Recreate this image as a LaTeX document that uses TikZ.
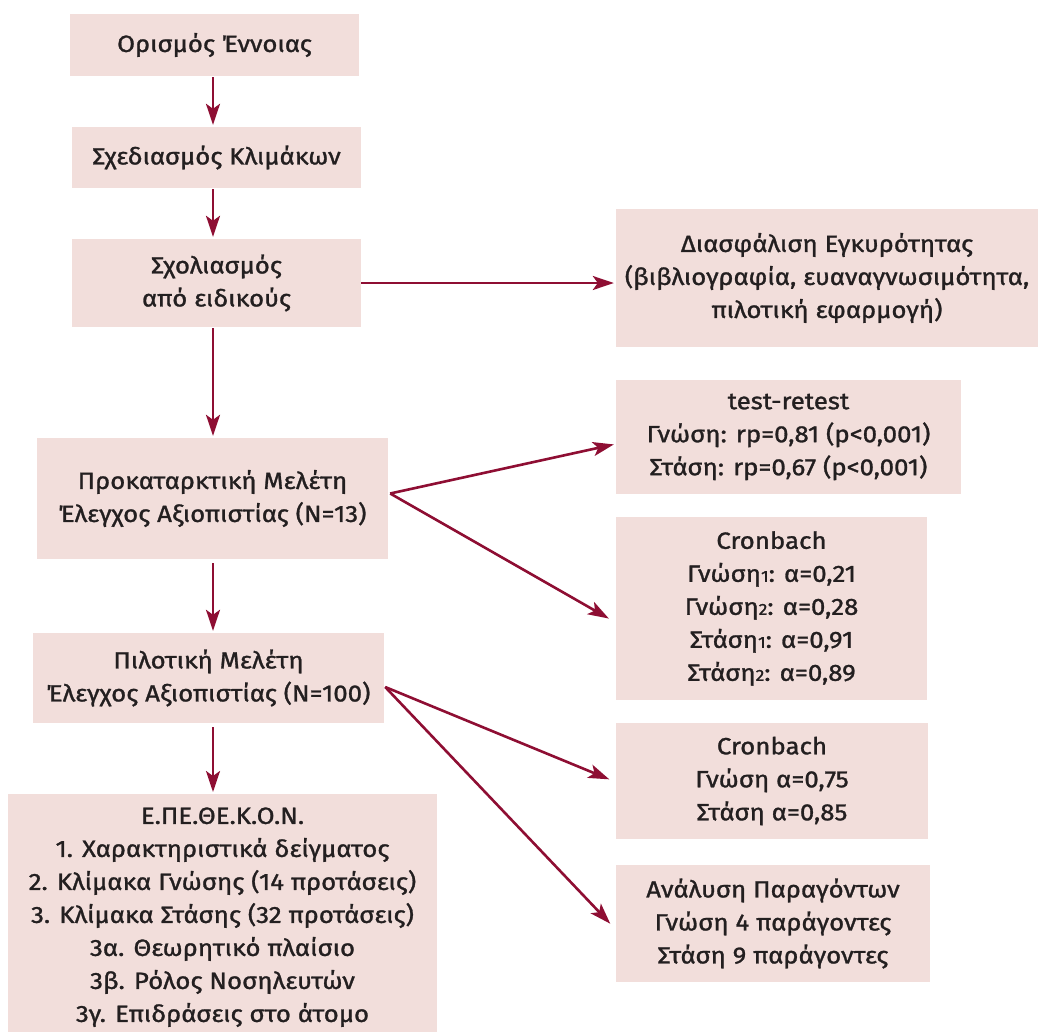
\documentclass[tikz,border=0pt]{standalone}
\usepackage{fontspec}
\setmainfont{Fira Sans}[FakeStretch=1.1, FakeBold=1.2]
\usepackage{tikz}
\usetikzlibrary{arrows.meta, positioning}

\definecolor{boxfill}{HTML}{F2DEDB}
\definecolor{arrowred}{HTML}{8E0E33}
\definecolor{ink}{HTML}{231F20}

\newcommand{\sub}[1]{{\fontsize{16}{16}\selectfont #1}}

\tikzset{
  stage/.style={fill=boxfill, text=ink, align=center, inner sep=0pt,
    font=\fontsize{23.5}{33}\selectfont},
  link/.style={draw=arrowred, line width=2.6pt,
    -{Stealth[length=21pt, width=14pt, inset=5pt]}, shorten >=2pt}
}

\begin{document}
\begin{tikzpicture}[x=1pt, y=-1pt]
  \useasboundingbox (0,0) rectangle (1038,1031);

  % left column
  \node[stage, minimum width=289, minimum height=62] (def) at (214.5,45) {Ορισμός Έννοιας};
  \node[stage, minimum width=289, minimum height=61] (design) at (216.5,157.5) {Σχεδιασμός Κλιμάκων};
  \node[stage, minimum width=289, minimum height=88] (review) at (216.5,283) {Σχολιασμός\\από ειδικούς};
  \node[stage, minimum width=351, minimum height=121] (prelim) at (212.5,498.5)
    {Προκαταρκτική Μελέτη\\Έλεγχος Αξιοπιστίας (N=13)};
  \node[stage, minimum width=351, minimum height=90] (pilot) at (208.5,678)
    {Πιλοτική Μελέτη\\Έλεγχος Αξιοπιστίας (N=100)};
  \node[stage, anchor=north, minimum width=429, minimum height=246] (final) at (222.5,794)
    {Ε.ΠΕ.ΘΕ.Κ.Ο.Ν.\\1. Χαρακτηριστικά δείγματος\\2. Κλίμακα Γνώσης (14 προτάσεις)\\
     3. Κλίμακα Στάσης (32 προτάσεις)\\3α. Θεωρητικό πλαίσιο\\3β. Ρόλος Νοσηλευτών\\
     3γ. Επιδράσεις στο άτομο};

  % right column
  \node[stage, minimum width=422, minimum height=138] (valid) at (827,278)
    {Διασφάλιση Εγκυρότητας\\(βιβλιογραφία, ευαναγνωσιμότητα,\\πιλοτική εφαρμογή)};
  \node[stage, minimum width=345, minimum height=114] (retest) at (788.5,437)
    {test-retest\\Γνώση: rp=0,81 (p<0,001)\\Στάση: rp=0,67 (p<0,001)};
  \node[stage, minimum width=311, minimum height=183] (alpha1) at (771.5,608.5)
    {Cronbach\\Γνώση\sub{1}: α=0,21\\Γνώση\sub{2}: α=0,28\\Στάση\sub{1}: α=0,91\\Στάση\sub{2}: α=0,89};
  \node[stage, minimum width=312, minimum height=116] (alpha2) at (772,781)
    {Cronbach\\Γνώση α=0,75\\Στάση α=0,85};
  \node[stage, minimum width=314, minimum height=117] (factors) at (773,923.5)
    {Ανάλυση Παραγόντων\\Γνώση 4 παράγοντες\\Στάση 9 παράγοντες};

  % arrows down
  \coordinate (spine) at (213,0);
  \draw[link, shorten <=1pt] (def.south -| spine) -- (design.north -| spine);
  \draw[link, shorten <=1pt] (design.south -| spine) -- (review.north -| spine);
  \draw[link, shorten <=1pt] (review.south -| spine) -- (prelim.north -| spine);
  \draw[link, shorten <=4pt] (prelim.south -| spine) -- (pilot.north -| spine);
  \draw[link, shorten <=4pt] (pilot.south -| spine) -- (final.north -| spine);

  % arrows right
  \draw[link] (review.east) -- (valid.west |- review.east);
  \draw[link] ([xshift=2pt, yshift=5pt]prelim.east) -- ([yshift=-7pt]retest.west);
  \draw[link, shorten >=8pt] ([xshift=2pt, yshift=5pt]prelim.east) -- ([yshift=-14pt]alpha1.west);
  \draw[link, shorten >=7pt] ([xshift=1pt, yshift=-9pt]pilot.east) -- ([yshift=-1pt]alpha2.west);
  \draw[link, shorten >=8pt] ([xshift=1pt, yshift=-9pt]pilot.east) -- ([yshift=-6pt]factors.west);
\end{tikzpicture}
\end{document}
